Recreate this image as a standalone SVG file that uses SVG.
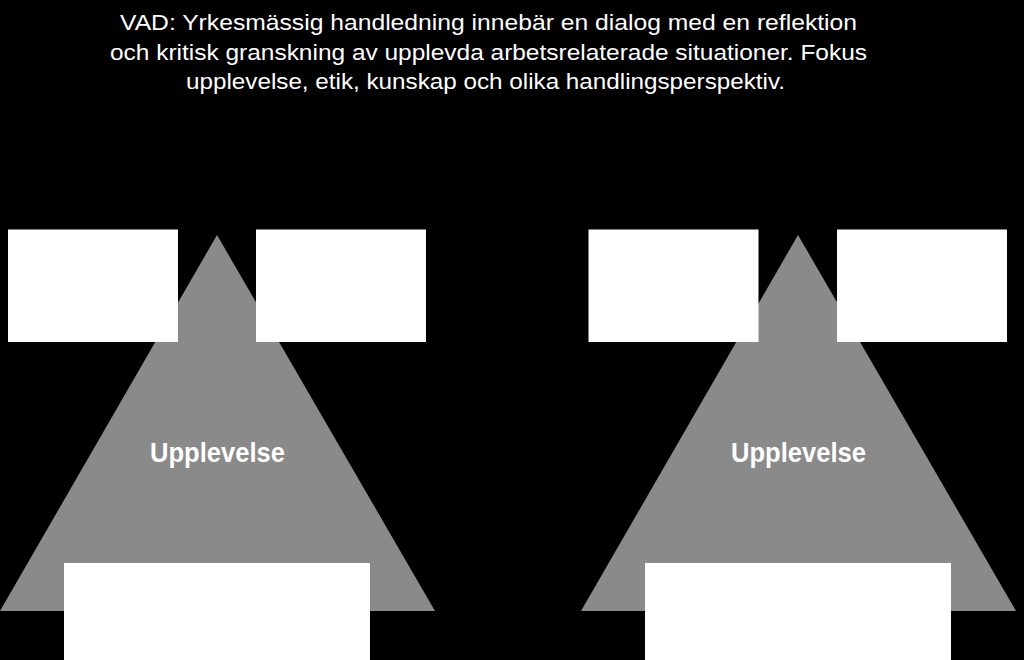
<svg xmlns="http://www.w3.org/2000/svg" width="1024" height="660" viewBox="0 0 1024 660">
<style>
.title{font-family:"Liberation Sans",Arial,sans-serif;font-size:22.5px;fill:#ffffff}
.lbl{font-family:"Liberation Sans",Arial,sans-serif;font-size:27px;font-weight:bold;fill:#ffffff;text-anchor:middle}
.tri{fill:#8a8a8a}
.box{fill:#ffffff}
</style>
<rect x="0" y="0" width="1024" height="660" fill="#000000"/>
<g id="title">
<text class="title" x="120" y="29.5" textLength="737" lengthAdjust="spacingAndGlyphs">VAD: Yrkesmässig handledning innebär en dialog med en reflektion</text>
<text class="title" x="110" y="59.5" textLength="757" lengthAdjust="spacingAndGlyphs">och kritisk granskning av upplevda arbetsrelaterade situationer. Fokus</text>
<text class="title" x="186" y="88.5" textLength="599" lengthAdjust="spacingAndGlyphs">upplevelse, etik, kunskap och olika handlingsperspektiv.</text>
</g>
<g id="connectors"></g>
<g id="left-triangle">
<polygon class="tri" points="217,235 435,611 0,611"/>
<text class="lbl" x="217.5" y="462" textLength="135" lengthAdjust="spacingAndGlyphs">Upplevelse</text>
</g>
<g id="left-box-tl"><rect class="box" x="8" y="229.5" width="170" height="112.5"/></g>
<g id="left-box-tr"><rect class="box" x="256" y="229.5" width="170" height="112.5"/></g>
<g id="left-box-bottom"><rect class="box" x="64" y="563" width="306" height="100"/></g>
<g id="right-triangle">
<polygon class="tri" points="798,235 1016,611 581,611"/>
<text class="lbl" x="798.5" y="462" textLength="135" lengthAdjust="spacingAndGlyphs">Upplevelse</text>
</g>
<g id="right-box-tl"><rect class="box" x="588.5" y="229.5" width="170" height="112.5"/></g>
<g id="right-box-tr"><rect class="box" x="837" y="229.5" width="170" height="112.5"/></g>
<g id="right-box-bottom"><rect class="box" x="645" y="563" width="306" height="100"/></g>
</svg>
